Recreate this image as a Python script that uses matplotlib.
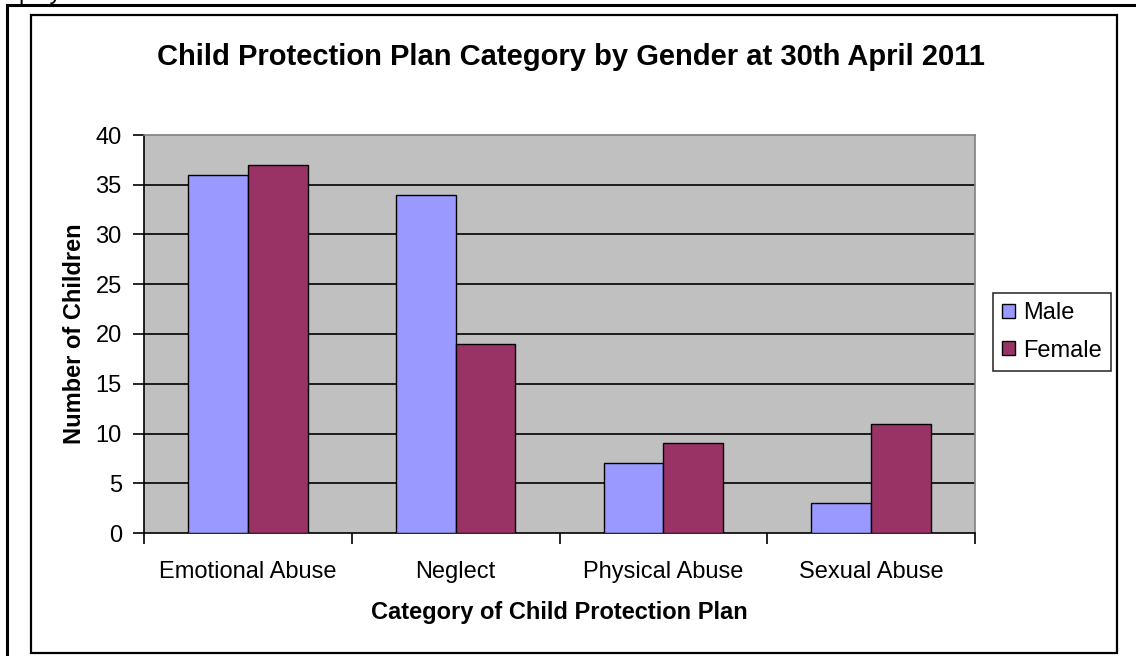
import matplotlib

matplotlib.use("Agg")
import matplotlib.pyplot as plt
import numpy as np
from matplotlib.patches import Rectangle
from matplotlib.lines import Line2D

plt.rcParams["font.family"] = ["Liberation Sans", "DejaVu Sans"]

categories = ["Emotional Abuse", "Neglect", "Physical Abuse", "Sexual Abuse"]
male = [36, 34, 7, 3]
female = [37, 19, 9, 11]
series_names = ["Male", "Female"]
y_ticks = [0, 5, 10, 15, 20, 25, 30, 35, 40]

MALE_COLOR = "#9999FF"
FEMALE_COLOR = "#993366"

W, H = 1136, 656
fig = plt.figure(figsize=(W / 100, H / 100), dpi=100)


def fx(px):
    return px / W


def fy(py):
    return 1 - py / H


# outer frame lines (page) and chart border
fig.add_artist(Line2D([fx(7), fx(7)], [fy(5), fy(H + 5)], color="black", lw=2.2))
fig.add_artist(Line2D([fx(7), fx(W + 5)], [fy(5), fy(5)], color="black", lw=2.2))
fig.add_artist(Rectangle((fx(31), fy(653)), fx(1117) - fx(31), fy(15) - fy(653),
                         fill=False, ec="black", lw=1.6))
# text from the page above, mostly cut off at the top edge
fig.text(fx(18), fy(-1), "play", fontsize=17, ha="left", va="baseline")

ax = fig.add_axes([fx(144), fy(533), fx(975) - fx(144), fy(135) - fy(533)])
ax.set_facecolor("#C0C0C0")

x = np.arange(len(categories))
bw = 0.288
ax.bar(x - bw / 2, male, bw, color=MALE_COLOR, edgecolor="black", lw=1.0, zorder=3,
       label=series_names[0])
ax.bar(x + bw / 2, female, bw, color=FEMALE_COLOR, edgecolor="black", lw=1.0, zorder=3,
       label=series_names[1])

ax.set_xlim(-0.5, len(categories) - 0.5)
ax.set_ylim(0, 40)
ax.set_yticks(y_ticks)
ax.set_yticklabels([str(v) for v in y_ticks], fontsize=17)
ax.set_xticks(x)
ax.set_xticklabels(categories, fontsize=17)
ax.tick_params(axis="x", length=0, pad=20)
ax.set_xticks(np.arange(len(categories) + 1) - 0.5, minor=True)
ax.tick_params(axis="x", which="minor", length=8, width=1.2, direction="out")
ax.tick_params(axis="y", length=8, width=1.2, direction="out", pad=8)

for v in y_ticks[1:-1]:
    ax.axhline(v, color="black", lw=1.2, zorder=1)

for s in ["left", "bottom"]:
    ax.spines[s].set_color("black")
    ax.spines[s].set_linewidth(1.2)
for s in ["top", "right"]:
    ax.spines[s].set_color("#808080")
    ax.spines[s].set_linewidth(1.2)

ax.set_ylabel("Number of Children", fontsize=17, fontweight="bold", labelpad=7)
ax.set_xlabel("Category of Child Protection Plan", fontsize=17, fontweight="bold", labelpad=13)

fig.text(fx(571), fy(57), "Child Protection Plan Category by Gender at 30th April 2011",
         fontsize=21, fontweight="bold", ha="center", va="center")

handles = [Rectangle((0, 0), 1, 1, fc=MALE_COLOR, ec="black", lw=1.0),
           Rectangle((0, 0), 1, 1, fc=FEMALE_COLOR, ec="black", lw=1.0)]
leg = fig.legend(handles, series_names, loc="center", bbox_to_anchor=(fx(1052), fy(332)),
                 fontsize=17, frameon=True, fancybox=False, edgecolor="black",
                 handlelength=0.55, handleheight=0.55, handletextpad=0.35,
                 borderpad=0.4, labelspacing=0.65, borderaxespad=0)
leg.get_frame().set_linewidth(1.2)

fig.savefig("out.png", dpi=100)
